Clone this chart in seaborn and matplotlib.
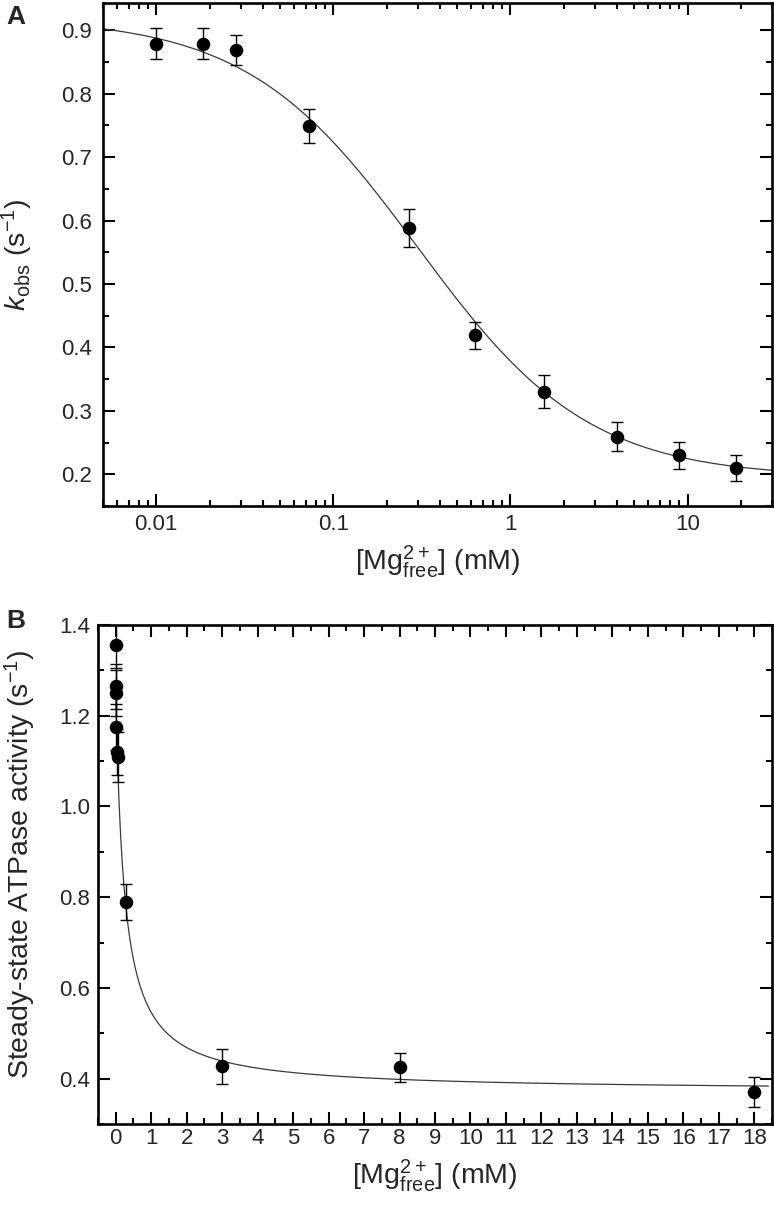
import numpy as np
import pandas as pd
import matplotlib
matplotlib.use("Agg")
import matplotlib.pyplot as plt
import seaborn as sns
from matplotlib.ticker import LogLocator, MultipleLocator, NullFormatter, FixedLocator, FuncFormatter

# ---------------- Panel A data ----------------
mg_a = [0.01, 0.0184, 0.0282, 0.0725, 0.268, 0.633, 1.55, 4.02, 8.96, 18.8]
kobs = [0.879, 0.879, 0.869, 0.749, 0.588, 0.419, 0.330, 0.259, 0.230, 0.210]
kobs_err = [0.024, 0.024, 0.024, 0.027, 0.030, 0.021, 0.026, 0.023, 0.021, 0.021]
# fitted dose-response parameters (drawn curve)
fitA_top, fitA_bottom, fitA_K, fitA_n = 0.92, 0.195, 0.30, 0.9

# ---------------- Panel B data ----------------
mg_b = [0.0, 0.005, 0.01, 0.02, 0.03, 0.05, 0.3, 3.0, 8.0, 18.0]
atp = [1.355, 1.265, 1.25, 1.175, 1.12, 1.11, 0.79, 0.427, 0.425, 0.371]
atp_err = [0.05, 0.05, 0.05, 0.05, 0.05, 0.055, 0.04, 0.039, 0.032, 0.033]
# fitted hyperbolic parameters (drawn curve)
fitB_min, fitB_amp, fitB_K = 0.372, 0.878, 0.247

sns.set_theme(style="ticks")
plt.rcParams['font.family'] = ['Liberation Sans', 'DejaVu Sans']
plt.rcParams['mathtext.fontset'] = 'custom'
plt.rcParams['mathtext.rm'] = 'Liberation Sans'
plt.rcParams['mathtext.it'] = 'Liberation Sans:italic'
plt.rcParams['mathtext.bf'] = 'Liberation Sans:bold'

W, H = 774, 1208
fig = plt.figure(figsize=(W / 100, H / 100), dpi=100)
fig.patch.set_facecolor('white')

def px_axes(left, top, right, bottom):
    return fig.add_axes([left / W, 1 - bottom / H, (right - left) / W, (bottom - top) / H])

axA = px_axes(103, 3, 772, 506)
axB = px_axes(98, 625, 772, 1124)

df_a = pd.DataFrame({"mg": mg_a, "k": kobs, "err": kobs_err})
df_b = pd.DataFrame({"mg": mg_b, "v": atp, "err": atp_err})

# fitted curves
xa = np.logspace(np.log10(0.005), np.log10(30), 400)
ya = fitA_bottom + (fitA_top - fitA_bottom) / (1 + (xa / fitA_K) ** fitA_n)
xb = np.linspace(0, 18.4, 800)
yb = fitB_min + fitB_amp / (1 + xb / fitB_K)

curve_color = '#3a3a3a'
TICK_FS = 16
LABEL_FS = 20.5

# ---- Panel A ----
sns.lineplot(x=xa, y=ya, ax=axA, color=curve_color, lw=0.9, zorder=2)
axA.errorbar(df_a["mg"], df_a["k"], yerr=df_a["err"], fmt='none', ecolor='black',
             elinewidth=1.0, capsize=4.5, capthick=1.0, zorder=3)
sns.scatterplot(data=df_a, x="mg", y="k", ax=axA, color='black', s=95,
                edgecolor='black', linewidth=0, zorder=4)
axA.set_xscale('log')
axA.set_xlim(0.005, 30)
axA.set_ylim(0.15, 0.943)
axA.xaxis.set_major_locator(FixedLocator([0.01, 0.1, 1, 10]))
axA.xaxis.set_major_formatter(FuncFormatter(
    lambda v, p: {0.01: '0.01', 0.1: '0.1', 1.0: '1', 10.0: '10'}.get(round(v, 3), '')))
axA.xaxis.set_minor_locator(LogLocator(base=10, subs=np.arange(2, 10)))
axA.xaxis.set_minor_formatter(NullFormatter())
axA.yaxis.set_major_locator(MultipleLocator(0.1))
axA.yaxis.set_minor_locator(MultipleLocator(0.05))
axA.yaxis.set_major_formatter(FuncFormatter(lambda v, p: f"{v:.1f}"))
axA.set_xlabel(r'[$\mathrm{Mg}^{2+}_{\mathrm{free}}$] (mM)', fontsize=LABEL_FS, labelpad=6)
axA.set_ylabel(r'$k_{\mathrm{obs}}$ (s$^{\mathrm{-1}}$)', fontsize=LABEL_FS, va='center')
axA.yaxis.set_label_coords(-0.128, 0.5)

# ---- Panel B ----
sns.lineplot(x=xb, y=yb, ax=axB, color=curve_color, lw=0.9, zorder=2)
axB.errorbar(df_b["mg"], df_b["v"], yerr=df_b["err"], fmt='none', ecolor='black',
             elinewidth=1.0, capsize=4.5, capthick=1.0, zorder=3)
sns.scatterplot(data=df_b, x="mg", y="v", ax=axB, color='black', s=95,
                edgecolor='black', linewidth=0, zorder=4)
axB.set_xlim(-0.5, 18.5)
axB.set_ylim(0.30, 1.4)
axB.xaxis.set_major_locator(MultipleLocator(1))
axB.xaxis.set_minor_locator(MultipleLocator(0.5))
axB.yaxis.set_major_locator(MultipleLocator(0.2))
axB.yaxis.set_minor_locator(MultipleLocator(0.1))
axB.yaxis.set_major_formatter(FuncFormatter(lambda v, p: f"{v:.1f}"))
axB.xaxis.set_major_formatter(FuncFormatter(lambda v, p: f"{int(round(v))}"))
axB.set_xlabel(r'[$\mathrm{Mg}^{2+}_{\mathrm{free}}$] (mM)', fontsize=LABEL_FS, labelpad=6)
axB.set_ylabel(r'Steady-state ATPase activity (s$^{\mathrm{-1}}$)', fontsize=LABEL_FS, va='center')
axB.yaxis.set_label_coords(-0.115, 0.52)

for ax, xpad, ypad in ((axA, 6, 8), (axB, 3, 5.5)):
    for sp in ax.spines.values():
        sp.set_linewidth(1.9)
        sp.set_color('black')
        sp.set_visible(True)
    ax.tick_params(which='major', direction='in', length=8.5, width=1.5,
                   top=True, right=True, labelsize=TICK_FS, color='black')
    ax.tick_params(which='minor', direction='in', length=4.5, width=1.5,
                   top=True, right=True, color='black')
    ax.tick_params(axis='x', which='major', pad=xpad)
    ax.tick_params(axis='y', which='major', pad=ypad)
    ax.set_facecolor('white')

fig.text(16 / W, 1 - 17 / H, 'A', fontsize=19, fontweight='bold', ha='center', va='center')
fig.text(16 / W, 1 - 621 / H, 'B', fontsize=19, fontweight='bold', ha='center', va='center')

fig.savefig('out.png', dpi=100, facecolor='white')
